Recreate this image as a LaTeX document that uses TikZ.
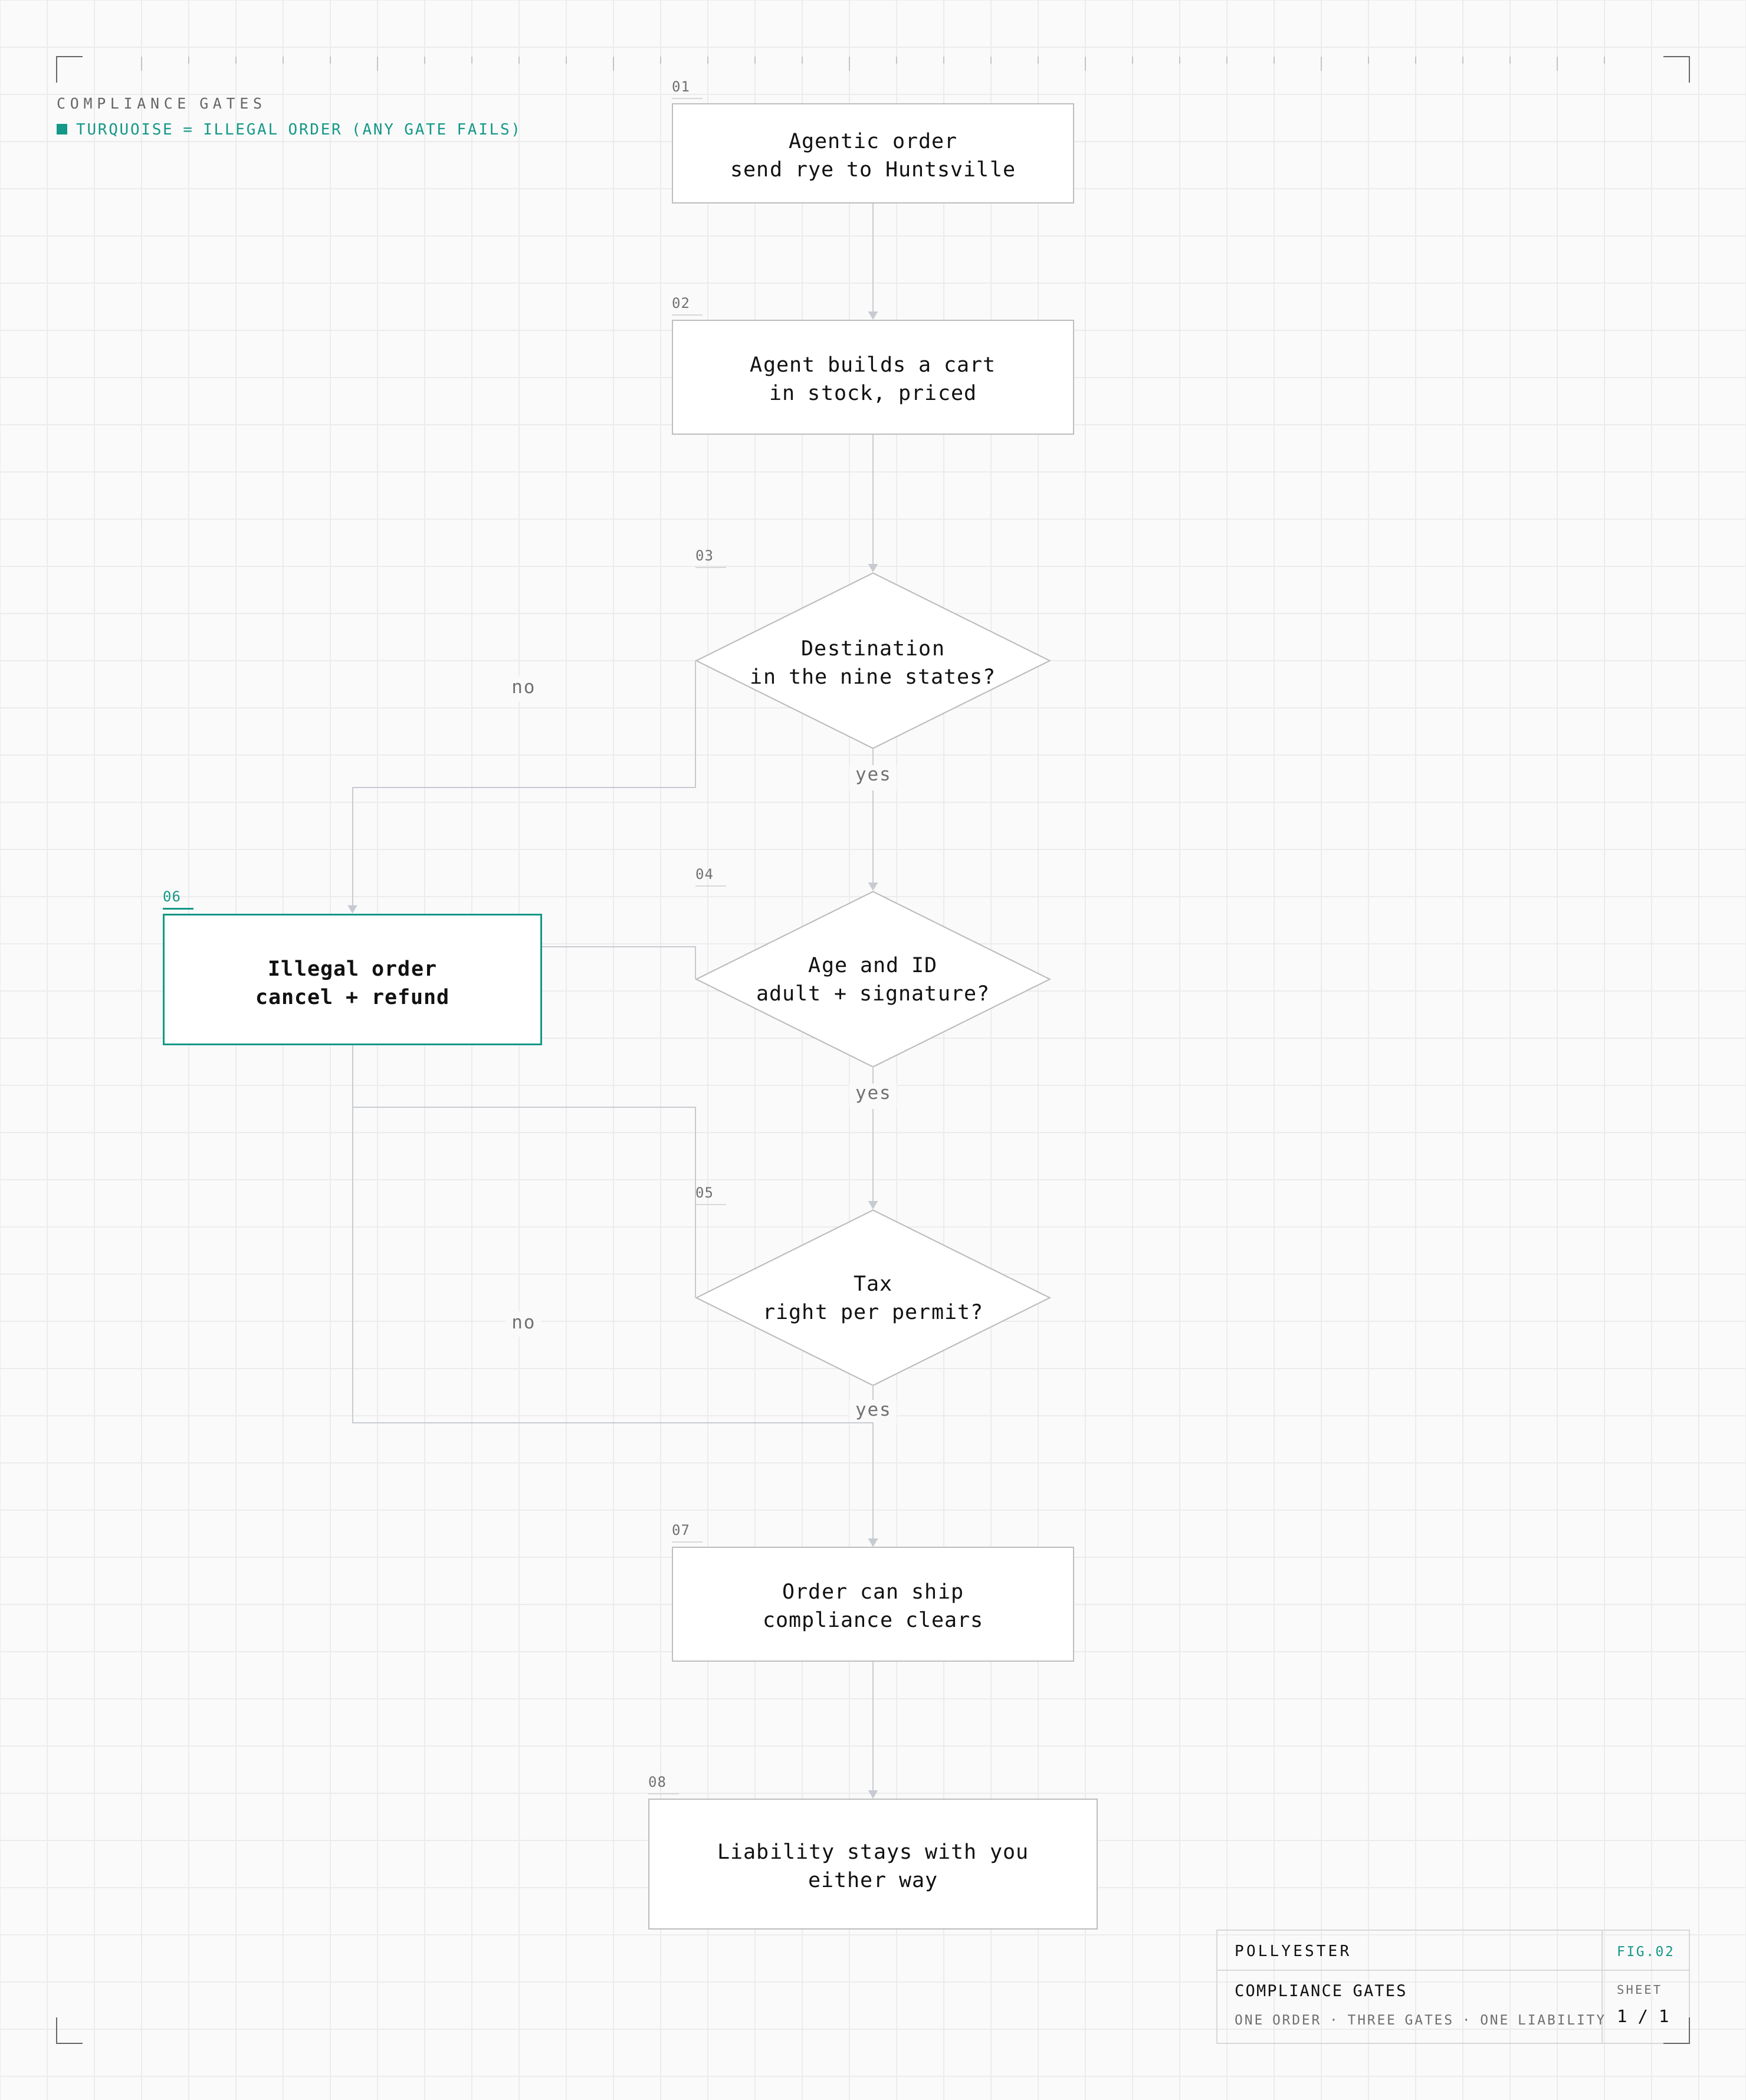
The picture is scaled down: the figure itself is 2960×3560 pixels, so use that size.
\documentclass[tikz,border=0pt]{standalone}
\usepackage{fontspec}
\setmainfont{DejaVu Sans Mono}
\usepackage{tikz}
\usetikzlibrary{shapes.geometric, arrows.meta, positioning, calc}
\definecolor{bgcol}{RGB}{250,250,250}
\definecolor{gridcol}{RGB}{236,236,236}
\definecolor{boxline}{RGB}{189,189,189}
\definecolor{edgecol}{RGB}{199,203,209}
\definecolor{tealcol}{RGB}{20,152,136}
\definecolor{tagcol}{RGB}{112,112,112}
\definecolor{inkcol}{RGB}{17,17,17}
\definecolor{markcol}{RGB}{102,102,102}
\definecolor{rulecol}{RGB}{216,216,216}
\definecolor{tickcol}{RGB}{196,196,196}
\newcommand{\trackfont}[3]{\fontsize{#1}{#2}\selectfont\addfontfeature{LetterSpace=#3}}
\tikzset{
  basebox/.style={rectangle,draw=boxline,fill=white,line width=2pt,inner sep=0pt,align=center,text=inkcol,font=\trackfont{35}{48}{3},execute at begin node={\rule{0pt}{86pt}}},
  stepbox/.style={basebox,minimum width=680pt,minimum height=168pt},
  failbox/.style={basebox,draw=tealcol,line width=3pt,minimum width=640pt,minimum height=220pt,font=\bfseries\trackfont{35}{48}{3}},
  gatenode/.style={diamond,draw=boxline,fill=white,line width=2pt,inner sep=0pt,aspect=2.013,minimum width=600pt,minimum height=298pt,align=center,text=inkcol,font=\trackfont{35}{48}{3},execute at begin node={\rule{0pt}{80pt}}},
  steptag/.style={anchor=base west,inner sep=0pt,text=tagcol,font=\trackfont{24}{28}{4}},
  tagrule/.style={line width=2pt,draw=rulecol},
  blocktext/.style={anchor=base west,inner sep=0pt},
  edgelabel/.style={fill=bgcol,text=tagcol,inner xsep=10pt,inner ysep=0pt,minimum height=43pt,font=\trackfont{31}{36}{6}},
  gridline/.style={line width=1.5pt,draw=gridcol},
  tickline/.style={line width=1.5pt,draw=tickcol},
  cornermark/.style={line width=2pt,draw=markcol},
  blockline/.style={line width=2pt,draw=rulecol},
  arr/.style={->,>={Triangle[length=14pt,width=16pt]},line width=2pt,color=edgecol},
  plainarr/.style={line width=2pt,color=edgecol}
}

\begin{document}
\begin{tikzpicture}[x=1pt,y=1pt]
  %% sheet
  \fill[bgcol] (0,0) rectangle (2960,-3560);
  \useasboundingbox (0,0) rectangle (2960,-3560);
  \draw[gridline,step=80pt] (0,-3560) grid (2960,0);

  %% title block
  \draw[blockline] (2063,-3272) rectangle (2864,-3464);
  \draw[blockline] (2063,-3340) -- (2864,-3340);
  \draw[blockline] (2716,-3272) -- (2716,-3464);
  \node[blocktext,text=inkcol,font=\trackfont{26}{30}{16}] (brand) at (2093,-3316) {POLLYESTER};
  \node[blocktext,text=tealcol,font=\trackfont{23}{28}{11}] (fig) at (2741,-3316) {FIG.02};
  \node[blocktext,text=inkcol,font=\trackfont{27}{32}{8}] (ttl) at (2093,-3384) {COMPLIANCE GATES};
  \node[blocktext,text=tagcol,font=\trackfont{20.5}{24}{15}] (sheet) at (2741,-3380) {SHEET};
  \node[blocktext,text=tagcol,font=\trackfont{23}{28}{12.2}] (sub) at (2093,-3432) {ONE ORDER · THREE GATES · ONE LIABILITY};
  \node[blocktext,text=inkcol,font=\trackfont{29}{32}{2}] (pg) at (2741,-3428) {1 / 1};

  %% ruler and corner marks
  \foreach \x in {240,320,...,2720} \draw[tickline] (\x,-96) -- (\x,-108);
  \foreach \x in {240,640,...,2640} \draw[tickline] (\x,-96) -- (\x,-120);
  \draw[cornermark] (96,-140) -- (96,-96) -- (140,-96);
  \draw[cornermark] (2820,-96) -- (2864,-96) -- (2864,-140);
  \draw[cornermark] (96,-3420) -- (96,-3464) -- (140,-3464);
  \draw[cornermark] (2820,-3464) -- (2864,-3464) -- (2864,-3420);

  %% header
  \node[blocktext,text=markcol,font=\trackfont{25}{30}{30.6}] (hdr) at (96,-184) {COMPLIANCE GATES};
  \fill[tealcol] (96,-210) rectangle (114,-228);
  \node[blocktext,text=tealcol,font=\trackfont{26}{30}{10.5}] (legend) at (129,-228) {TURQUOISE = ILLEGAL ORDER (ANY GATE FAILS)};

  %% main column
  \node[stepbox] (n01) at (1480,-260) {Agentic order\\send rye to Huntsville};
  \node[stepbox,minimum height=193pt,below=197pt of n01] (n02) {Agent builds a cart\\in stock, priced};
  \node[gatenode,below=233pt of n02] (d03) {Destination\\in the nine states?};
  \node[gatenode,below=240pt of d03] (d04) {Age and ID\\adult + signature?};
  \node[gatenode,below=240pt of d04] (d05) {Tax\\right per permit?};
  \node[stepbox,minimum height=193pt,below=272pt of d05] (n07) {Order can ship\\compliance clears};
  \node[stepbox,minimum width=760pt,minimum height=220pt,below=232pt of n07] (n08) {Liability stays with you\\either way};

  %% illegal order
  \node[failbox,left=260pt of d04] (n06) {Illegal order\\cancel + refund};

  %% step numbers
  \foreach \nd/\tg in {n01/01,n02/02,n07/07,n08/08}{
    \node[steptag] (t\tg) at ($(\nd.north west)+(0,20)$) {\tg};
    \draw[tagrule] ($(\nd.north west)+(0,8)$) -- ++(52,0);
  }
  \foreach \nd/\tg in {d03/03,d04/04,d05/05}{
    \node[steptag] (t\tg) at ($(\nd.west |- \nd.north)+(0,20)$) {\tg};
    \draw[tagrule] ($(\nd.west |- \nd.north)+(0,8)$) -- ++(52,0);
  }
  \node[steptag,text=tealcol] (t06) at ($(n06.north west)+(0,20)$) {06};
  \draw[tagrule,draw=tealcol,line width=3pt] ($(n06.north west)+(0,8)$) -- ++(52,0);

  %% connectors
  \draw[arr] (n01) -- (n02);
  \draw[arr] (n02) -- (d03);
  \draw[arr] (d03) -- node[edgelabel,pos=.2] (y03) {yes} (d04);
  \draw[arr] (d04) -- node[edgelabel,pos=.2] (y04) {yes} (d05);
  \draw[arr] (d05) -- node[edgelabel,pos=.165] (y05) {yes} (n07);
  \draw[arr] (n07) -- (n08);
  \draw[arr] (d03.west) -- ++(0,-215) -| (n06.north);
  \draw[plainarr] (d04.west) |- ([yshift=55pt]n06.east);
  \draw[plainarr] (d05.west) |- ([yshift=-105pt]n06.south) -- (n06.south);
  \draw[arr] (n06.south) -- ++(0,-640) -| (n07.north);
  \node[edgelabel] (no03) at ([xshift=-292pt,yshift=-47pt]d03.west) {no};
  \node[edgelabel] (no05) at ([xshift=-292pt,yshift=-44pt]d05.west) {no};
\end{tikzpicture}
\end{document}
